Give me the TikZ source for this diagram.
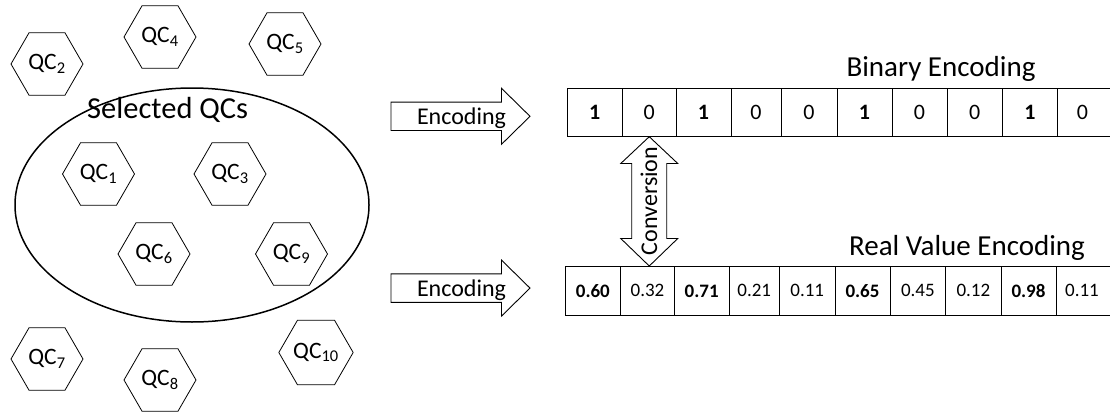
\documentclass[tikz,border=0pt]{standalone}
\usepackage{fontspec}
\setmainfont{Carlito}
\usetikzlibrary{shapes.geometric}

\tikzset{
  qc/.style={draw, line width=0.8pt, regular polygon, regular polygon sides=6,
    minimum size=72pt, inner sep=0pt, font=\fontsize{23.5}{27}\selectfont},
  group/.style={draw, line width=1.5pt, ellipse, inner sep=0pt},
  title/.style={anchor=base, inner sep=0pt, font=\fontsize{29}{34}\selectfont},
  arrowline/.style={draw, line width=0.9pt, line join=miter},
  arrowtext/.style={anchor=base, inner sep=0pt, font=\fontsize{24}{28}\selectfont},
  cellline/.style={line width=0.9pt},
  bincell/.style={draw, cellline, inner sep=0pt, outer sep=0pt,
    minimum height=48.4pt, font=\fontsize{22}{26}\selectfont},
  realcell/.style={draw, cellline, inner sep=0pt, outer sep=0pt,
    minimum height=48.3pt, font=\fontsize{19}{22}\selectfont},
  blockarrow/.pic={
    \draw[arrowline] (0,-14.2) -- (110.5,-14.2) -- (110.5,-28) -- (139,0)
      -- (110.5,28) -- (110.5,14.2) -- (0,14.2) -- cycle;
  }
}

\begin{document}
\begin{tikzpicture}[x=1pt, y=-1pt]
\useasboundingbox (0,0) rectangle (1110,412);

% candidate quality criteria
\node[group, minimum width=354pt, minimum height=234pt] (sel) at (192,205) {};
\node[title, font=\fontsize{30.5}{36}\selectfont] (seltitle) at (167.7,118) {Selected QCs};

\node[qc] (qc2)  at (47,64)    {QC\textsubscript{2}};
\node[qc] (qc4)  at (160,37)   {QC\textsubscript{4}};
\node[qc] (qc5)  at (285,44)   {QC\textsubscript{5}};
\node[qc] (qc1)  at (98.5,174) {QC\textsubscript{1}};
\node[qc] (qc3)  at (230,174)  {QC\textsubscript{3}};
\node[qc] (qc6)  at (154,254)  {QC\textsubscript{6}};
\node[qc] (qc9)  at (291.5,254){QC\textsubscript{9}};
\node[qc] (qc7)  at (47,359)   {QC\textsubscript{7}};
\node[qc] (qc8)  at (160,380)  {QC\textsubscript{8}};
\node[qc] (qc10) at (316,352.5){QC\textsubscript{10}};

% encoding arrows
\pic at (391,116.3) {blockarrow};
\node[arrowtext] (enc1) at (461.5,124) {Encoding};
\pic at (391,288.1) {blockarrow};
\node[arrowtext] (enc2) at (461.5,296) {Encoding};

% binary chromosome
\node[title] (bintitle) at (941,77) {Binary Encoding};
\foreach \l/\r/\t [count=\i] in {567/622.5/\textbf{1}, 622.5/676/0, 676/731/\textbf{1},
    731/781/0, 781/837/0, 837/892/\textbf{1}, 892/947/0, 947/1002.5/0,
    1002.5/1057.5/\textbf{1}}{
  \pgfmathsetmacro\w{\r-\l}
  \pgfmathsetmacro\c{(\l+\r)/2}
  \node[bincell, minimum width=\w pt] (b\i) at (\c,112.5) {\t};
}
\node[bincell, draw=none, minimum width=50pt] (b10) at (1082.5,112.5) {0};
\draw[cellline] (b9.north east) -- ++(52.5,0);
\draw[cellline] (b9.south east) -- ++(52.5,0);

% real-valued chromosome
\node[title] (realtitle) at (967,255) {Real Value Encoding};
\foreach \l/\r/\t [count=\i] in {565/620.7/\textbf{0.60}, 620.7/674.3/0.32,
    674.3/729/\textbf{0.71}, 729/779.5/0.21, 779.5/835/0.11, 835/890/\textbf{0.65},
    890/945.7/0.45, 945.7/1001/0.12, 1001/1056/\textbf{0.98}}{
  \pgfmathsetmacro\w{\r-\l}
  \pgfmathsetmacro\c{(\l+\r)/2}
  \node[realcell, minimum width=\w pt] (r\i) at (\c,290.85) {\t};
}
\node[realcell, draw=none, minimum width=50pt] (r10) at (1082,290.85) {0.11};
\draw[cellline] (r9.north east) -- ++(54,0);
\draw[cellline] (r9.south east) -- ++(54,0);

% conversion between the two encodings
\draw[arrowline] (b2.south) -- ++(28.5,26.8) -- ++(-11,0) -- ++(0,75) -- ++(11,0)
  -- ++(-28.5,27.5) -- ++(-28.5,-27.5) -- ++(11,0) -- ++(0,-75) -- ++(-11,0) -- cycle;
\node[arrowtext, rotate=90] (conv) at (657,201) {Conversion};
\end{tikzpicture}
\end{document}
